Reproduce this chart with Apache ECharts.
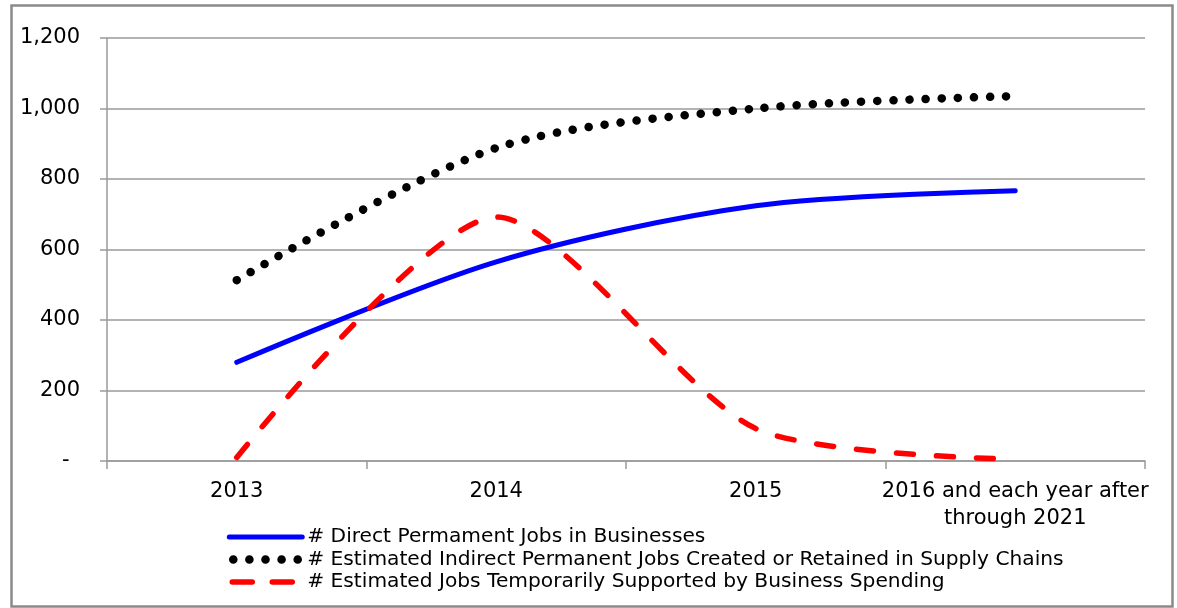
<!DOCTYPE html>
<html>
<head>
<meta charset="utf-8">
<script src="https://cdn.jsdelivr.net/npm/echarts@6/dist/echarts.min.js"></script>
<style>
  html, body { margin: 0; padding: 0; background: #fff; }
  #chart { width: 1177px; height: 608px; }
</style>
</head>
<body>
<div id="chart"></div>
<script>
const categories = ['2013', '2014', '2015', '2016 and each year after\nthrough 2021'];
const directJobs = [280, 565, 724, 767];
const indirectJobs = [513, 888, 1000, 1035];
const temporaryJobs = [10, 692, 92, 5];
const yTicks = [0, 200, 400, 600, 800, 1000, 1200];

const seriesNames = [
  '# Direct Permament Jobs in Businesses',
  '# Estimated Indirect Permanent Jobs Created or Retained in Supply Chains',
  '# Estimated Jobs Temporarily Supported by Business Spending'
];

const font = '"DejaVu Sans", Verdana, sans-serif';
const gray = '#9a9a9a';
const chart = echarts.init(document.getElementById('chart'));

const blueStyle = { color: '#0000ff', width: 5, cap: 'round' };
const dotStyle = { color: '#000', width: 8.5, type: [0.1, 16], cap: 'round' };
const dashStyle = { color: '#ff0000', width: 5.5, type: [17, 23], cap: 'round' };

chart.setOption({
  animation: false,
  textStyle: { fontFamily: font },
  graphic: [{
    type: 'rect',
    left: 9, top: 3,
    shape: { width: 1161, height: 601 },
    style: { fill: 'none', stroke: '#8a8a8a', lineWidth: 2.5 },
    silent: true
  }],
  grid: { left: 107, right: 32, top: 38, bottom: 147 },
  legend: {
    orient: 'vertical',
    left: 225,
    top: 527,
    padding: 0,
    itemWidth: 73,
    itemHeight: 10,
    itemGap: 2.5,
    itemStyle: { opacity: 0 },
    textStyle: { fontSize: 20.2, lineHeight: 20, color: '#000', fontFamily: font },
    data: [
      { name: seriesNames[0], lineStyle: blueStyle },
      { name: seriesNames[1], lineStyle: Object.assign({}, dotStyle, { dashOffset: -4 }) },
      { name: seriesNames[2], lineStyle: Object.assign({}, dashStyle, { type: [20, 20], dashOffset: -3 }) }
    ]
  },
  xAxis: {
    type: 'category',
    data: categories,
    boundaryGap: true,
    axisLine: { lineStyle: { color: gray, width: 1.5 } },
    axisTick: { show: true, length: 8, lineStyle: { color: gray, width: 1.5 } },
    axisLabel: { interval: 0, color: '#000', fontSize: 21, margin: 17, lineHeight: 27, fontFamily: font }
  },
  yAxis: {
    type: 'value',
    min: 0, max: 1200, interval: 200,
    axisLine: { show: true, lineStyle: { color: gray, width: 1.5 } },
    axisTick: { show: true, length: 7, lineStyle: { color: gray, width: 1.5 } },
    splitLine: { lineStyle: { color: gray, width: 1.5 } },
    axisLabel: {
      color: '#000', fontSize: 21, margin: 27, fontFamily: font,
      formatter: v => yTicks.includes(v) ? (v === 0 ? '-\u2002' : v.toLocaleString('en-US')) : ''
    }
  },
  series: [
    {
      name: seriesNames[0],
      type: 'line',
      data: directJobs,
      smooth: 0.3,
      symbol: 'none',
      z: 3,
      lineStyle: blueStyle,
      itemStyle: { color: '#0000ff' }
    },
    {
      name: seriesNames[1],
      type: 'line',
      data: indirectJobs,
      smooth: 0.3,
      symbol: 'none',
      z: 2,
      lineStyle: dotStyle,
      itemStyle: { color: '#000' }
    },
    {
      name: seriesNames[2],
      type: 'line',
      data: temporaryJobs,
      smooth: 0.25,
      symbol: 'none',
      z: 4,
      lineStyle: dashStyle,
      itemStyle: { color: '#ff0000' }
    }
  ]
});
</script>
</body>
</html>
